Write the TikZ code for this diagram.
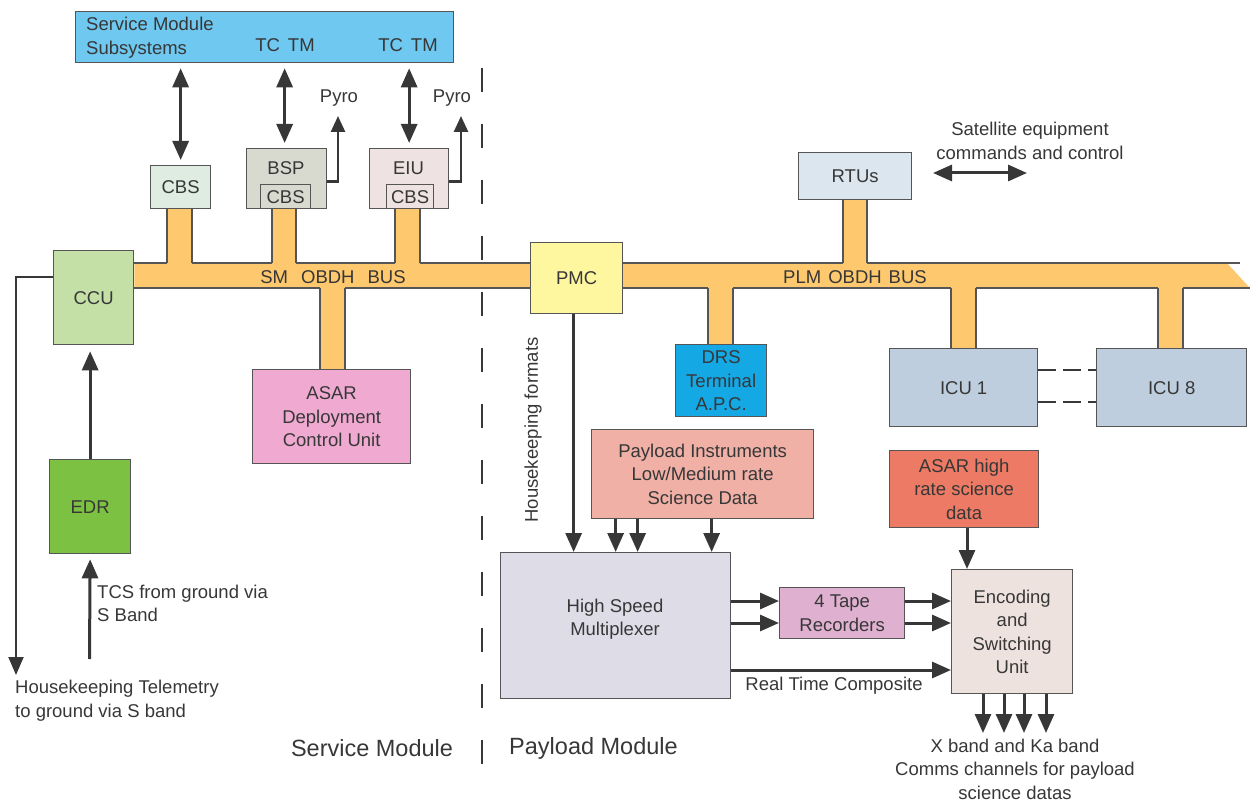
\documentclass[tikz,border=0pt]{standalone}
\usepackage{fontspec}
\setmainfont{Liberation Sans}
\usetikzlibrary{arrows.meta,backgrounds}
\definecolor{smsubc}{RGB}{110,200,240}
\definecolor{cbsc}{RGB}{222,236,226}
\definecolor{bspc}{RGB}{216,218,208}
\definecolor{eiuc}{RGB}{238,226,226}
\definecolor{ccuc}{RGB}{197,224,166}
\definecolor{edrc}{RGB}{125,193,67}
\definecolor{asardc}{RGB}{240,170,210}
\definecolor{pmcc}{RGB}{255,246,160}
\definecolor{rtuc}{RGB}{220,230,238}
\definecolor{drsc}{RGB}{20,168,228}
\definecolor{plic}{RGB}{240,176,166}
\definecolor{icuc}{RGB}{190,206,222}
\definecolor{asarhc}{RGB}{236,122,100}
\definecolor{encc}{RGB}{238,226,222}
\definecolor{muxc}{RGB}{222,221,231}
\definecolor{tapec}{RGB}{224,176,208}
\definecolor{busc}{RGB}{253,200,110}
\definecolor{bordc}{RGB}{85,85,85}
\definecolor{arrc}{RGB}{55,55,55}
\definecolor{txtc}{RGB}{55,55,55}
\newcommand\myfs{\fontsize{18.5}{23.5}\selectfont}
\newcommand\mybig{\fontsize{23.5}{28}\selectfont}
\begin{document}
\begin{tikzpicture}[x=1pt,y=-1pt,
  box/.style={draw=bordc, line width=1.3pt, anchor=north west, inner sep=0pt, align=center, font=\myfs, text=txtc},
  lbl/.style={font=\myfs, text=txtc, inner sep=0pt, align=center},
  arr/.style={draw=arrc, line width=3pt, -{Triangle[length=19pt,width=16pt]}},
  darr/.style={draw=arrc, line width=3pt, {Triangle[length=19pt,width=16pt]}-{Triangle[length=19pt,width=16pt]}},
  parr/.style={draw=arrc, line width=2.6pt, -{Triangle[length=16pt,width=14pt]}},
  tarr/.style={draw=arrc, line width=2pt, -{Triangle[length=18pt,width=15pt]}},
  busl/.style={draw=bordc, line width=1.5pt},
  icudash/.style={draw=arrc, line width=2.3pt, dash pattern=on 18pt off 7pt},
  sepline/.style={draw=arrc, line width=2pt, dash pattern=on 24pt off 32pt}]
\useasboundingbox (0,0) rectangle (1258,802);

% boxes
\node[box, fill=smsubc, minimum width=378pt, minimum height=51pt] (smsub) at (75,11) {};
\node[lbl, anchor=west, align=left] (smsubt) at (86,37.5) {Service Module\\Subsystems};
\node[lbl] (tc1) at (285,45) {TC\hspace{8pt}TM};
\node[lbl] (tc2) at (408,45) {TC\hspace{8pt}TM};

\node[box, fill=cbsc, minimum width=60pt, minimum height=43pt] (cbs) at (150,165) {CBS};
\node[box, fill=bspc, minimum width=80pt, minimum height=60pt] (bsp) at (246,148) {};
\node[lbl] (bspt) at (286,168) {BSP};
\node[box, fill=bspc, minimum width=50pt, minimum height=24pt] (bspcbs) at (260,184) {CBS};
\node[box, fill=eiuc, minimum width=79pt, minimum height=60pt] (eiu) at (369,148) {};
\node[lbl] (eiut) at (408.5,168) {EIU};
\node[box, fill=eiuc, minimum width=47pt, minimum height=24pt] (eiucbs) at (386,184) {CBS};
\node[lbl] (pyro1) at (339,98) {Pyro};
\node[lbl] (pyro2) at (452,98) {Pyro};

\node[box, fill=ccuc, minimum width=80pt, minimum height=94pt] (ccu) at (53,250) {CCU};
\node[box, fill=edrc, minimum width=81pt, minimum height=94pt] (edr) at (49,459) {EDR};
\node[box, fill=asardc, minimum width=158pt, minimum height=94pt] (asard) at (252,369) {ASAR\\Deployment\\Control Unit};
\node[box, fill=pmcc, minimum width=92pt, minimum height=71pt] (pmc) at (530,242) {PMC};
\node[box, fill=rtuc, minimum width=113pt, minimum height=47pt] (rtus) at (798,152) {RTUs};
\node[box, fill=drsc, minimum width=91pt, minimum height=72pt] (drs) at (675,344) {DRS\\Terminal\\A.P.C.};
\node[box, fill=plic, minimum width=222pt, minimum height=89pt] (pli) at (591,429) {Payload Instruments\\Low/Medium rate\\Science Data};
\node[box, fill=icuc, minimum width=148pt, minimum height=78pt] (icu1) at (889,348) {ICU 1};
\node[box, fill=icuc, minimum width=150pt, minimum height=78pt] (icu8) at (1096,348) {ICU 8};
\node[box, fill=asarhc, minimum width=149pt, minimum height=77pt] (asarh) at (889,450) {ASAR high\\rate science\\data};
\node[box, fill=encc, minimum width=121pt, minimum height=124pt] (enc) at (951,569) {Encoding\\and\\Switching\\Unit};
\node[box, fill=muxc, minimum width=230pt, minimum height=146pt] (mux) at (500,552) {};
\node[lbl] (muxt) at (615,619) {High Speed\\Multiplexer};
\node[box, fill=tapec, minimum width=125pt, minimum height=51pt] (tape) at (779,587) {4 Tape\\Recorders};

% labels
\node[lbl] (sat) at (1030,141) {Satellite equipment\\commands and control};
\node[lbl, anchor=west, align=left] (tcs) at (97,603.5) {TCS from ground via\\S Band};
\node[lbl, anchor=west, align=left] (hkt) at (15,700.5) {Housekeeping Telemetry\\to ground via S band};
\node[lbl, font=\mybig] (smod) at (372,748) {Service Module};
\node[lbl, font=\mybig] (pmod) at (593.5,748) {Payload Module};
\node[lbl, rotate=90] (hkf) at (533,430) {Housekeeping formats};
\node[lbl] (rtc) at (834,686) {Real Time Composite};
\node[lbl] (xband) at (1015,769) {X band and Ka band\\Comms channels for payload\\science datas};
\node[lbl] (smbus) at (333,277) {SM\hspace{13pt}OBDH\hspace{13pt}BUS};
\node[lbl] (plmbus) at (855,277) {PLM\hspace{7pt}OBDH\hspace{7pt}BUS};

% free ends
\coordinate (pyro1end) at (338,116);
\coordinate (pyro2end) at (461,116);
\coordinate (hkend) at (16,675);
\coordinate (tcsstart) at (89.5,659);
\coordinate (sa) at (933,173);
\coordinate (sb) at (1027,173);

% background: separator and buses
\begin{scope}[on background layer]
  \draw[sepline] (482,68) -- (482,767);
  \fill[busc] (ccu.east |- 0,263) -- (1227,263) -- (1249,287) -- (1250,288) -- (ccu.east |- 0,288) -- cycle;
  \draw[busl] (ccu.east |- 0,263) -- (1240,263);
  \draw[busl] (ccu.east |- 0,288) -- (1250,288);
  \foreach \n/\a/\b in {cbs/167/192, bsp/272/296, eiu/395/420, rtus/843/867} {
    \fill[busc] (\n.south -| \a,0) rectangle (\b,265);
    \draw[busl] (\n.south -| \a,0) -- (\a,263) (\n.south -| \b,0) -- (\b,263);
  }
  \foreach \n/\a/\b in {asard/320/345, drs/708/733, icu1/951/976, icu8/1158/1183} {
    \fill[busc] (\n.north -| \a,0) rectangle (\b,286);
    \draw[busl] (\n.north -| \a,0) -- (\a,288) (\n.north -| \b,0) -- (\b,288);
  }
\end{scope}

% connectors
\draw[darr, shorten <=5pt, shorten >=5pt] (cbs.north |- smsub.south) -- (cbs.north);
\draw[darr, shorten <=5pt, shorten >=5pt] ([xshift=-2pt]bsp.north |- smsub.south) -- ([xshift=-2pt]bsp.north);
\draw[darr, shorten <=5pt, shorten >=5pt] (eiu.north |- smsub.south) -- (eiu.north);
\draw[parr] ([yshift=-3pt]bsp.east) -| (pyro1end);
\draw[parr] ([yshift=-3pt]eiu.east) -| (pyro2end);

\draw[tarr] ([yshift=21pt]ccu.west) -| (hkend);
\draw[arr, shorten >=6pt] (edr.north) -- (edr.north |- ccu.south);
\draw[arr, shorten >=5pt] (tcsstart) -- (edr.south);

\draw[darr] (sa) -- (sb);
\draw[icudash] (icu1.east |- 0,370) -- (icu8.west |- 0,370);
\draw[icudash] (icu1.east |- 0,402) -- (icu8.west |- 0,402);

\draw[arr] ([xshift=-3pt]pmc.south) -- ([xshift=-3pt]pmc.south |- mux.north);
\foreach \dx in {-87,-65,9} {
  \draw[arr] ([xshift=\dx pt]pli.south) -- ([xshift=\dx pt]pli.south |- mux.north);
}
\foreach \yy in {601,623} {
  \draw[arr] (mux.east |- 0,\yy) -- (tape.west |- 0,\yy);
  \draw[arr] (tape.east |- 0,\yy) -- (enc.west |- 0,\yy);
}
\draw[arr] (mux.east |- 0,670) -- (enc.west |- 0,670);
\draw[arr] (asarh.south -| 967,0) -- (enc.north -| 967,0);
\foreach \xx in {983,1004,1024,1046} {
  \draw[arr] (enc.south -| \xx,0) -- (\xx,733);
}
\end{tikzpicture}
\end{document}
